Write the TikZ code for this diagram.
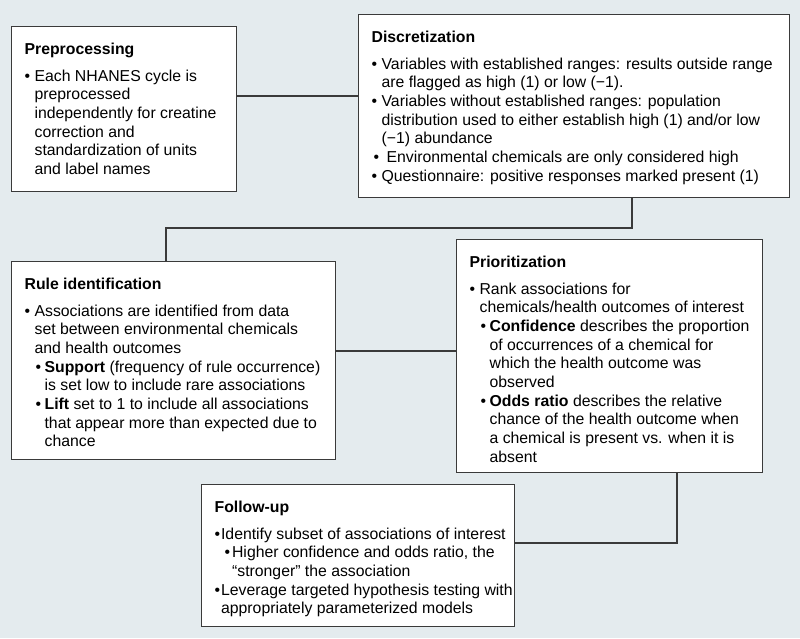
\documentclass[tikz,border=0pt]{standalone}
\usepackage{fontspec}
\setmainfont{Liberation Sans}

\definecolor{panel}{HTML}{E4EBEE}
\definecolor{edge}{HTML}{3A3A3A}

% bullet widths and indents
\newlength{\bw}\setlength{\bw}{10pt}
\newlength{\sbw}\setlength{\sbw}{9pt}
\newlength{\sind}\setlength{\sind}{11pt}
\newcommand{\itm}{\hspace*{0pt}\makebox[\bw][l]{\textbullet}}
\newcommand{\cnt}{\hspace*{\bw}}
\newcommand{\sitm}{\hspace*{\sind}\makebox[\sbw][l]{\textbullet}}
\newcommand{\scnt}{\hspace*{\dimexpr\sind+\sbw\relax}}
\newcommand{\boxbody}[4]{\parbox[c][#2][t]{#1}{\raggedright\vspace*{16.5pt}\leftskip=13pt\relax
  \textbf{#3}\par\vspace{7.8pt}#4\par}}

\tikzset{
  stage/.style={draw=edge, line width=1.2pt, fill=white, inner sep=0pt, anchor=north west,
    font=\fontsize{15.8}{18.7}\selectfont},
  link/.style={draw=edge, line width=1.2pt}
}

\begin{document}
\begin{tikzpicture}[x=1pt, y=-1pt]
    \fill[panel] (0,0) rectangle (800,638);

    \node[stage] (prep) at (11,26) {\boxbody{225pt}{165pt}{Preprocessing}{%
        \itm Each NHANES cycle is\\
        \cnt preprocessed\\
        \cnt independently for creatine\\
        \cnt correction and\\
        \cnt standardization of units\\
        \cnt and label names}};
    \node[stage] (disc) at (358,14) {\boxbody{431pt}{183pt}{Discretization}{%
        \setlength{\sind}{2pt}\setlength{\sbw}{13pt}%
        \itm Variables with established ranges: results outside range\\
        \cnt are flagged as high (1) or low (−1).\\
        \itm Variables without established ranges: population\\
        \cnt distribution used to either establish high (1) and/or low\\
        \cnt (−1) abundance\\
        \sitm Environmental chemicals are only considered high\\
        \itm Questionnaire: positive responses marked present (1)}};
    \node[stage] (rule) at (11,261) {\boxbody{324pt}{198pt}{Rule identification}{%
        \itm Associations are identified from data\\
        \cnt set between environmental chemicals\\
        \cnt and health outcomes\\
        \sitm \textbf{Support} (frequency of rule occurrence)\\
        \scnt is set low to include rare associations\\
        \sitm \textbf{Lift} set to 1 to include all associations\\
        \scnt that appear more than expected due to\\
        \scnt chance}};
    \node[stage] (prio) at (456,239) {\boxbody{306pt}{233pt}{Prioritization}{%
        \itm Rank associations for\\
        \cnt chemicals/health outcomes of interest\\
        \sitm \textbf{Confidence} describes the proportion\\
        \scnt of occurrences of a chemical for\\
        \scnt which the health outcome was\\
        \scnt observed\\
        \sitm \textbf{Odds ratio} describes the relative\\
        \scnt chance of the health outcome when\\
        \scnt a chemical is present vs. when it is\\
        \scnt absent}};
    \node[stage] (foll) at (201,484) {\boxbody{313pt}{142pt}{Follow-up}{%
        \setlength{\bw}{6.5pt}\setlength{\sind}{10pt}\setlength{\sbw}{7.5pt}%
        \itm Identify subset of associations of interest\\
        \sitm Higher confidence and odds ratio, the\\
        \scnt “stronger” the association\\
        \itm Leverage targeted hypothesis testing with\\
        \cnt appropriately parameterized models}};

    % connectors between the stages
    \coordinate (j1) at (300,96);
    \coordinate (j2) at (632,228);
    \coordinate (j3) at (166,228);
    \coordinate (j4) at (400,351);
    \coordinate (j5) at (677,543);
    \draw[link] (prep.east |- j1) -- (disc.west |- j1);
    \draw[link] (disc.south -| j2) -- (j2) -- (j3) -- (rule.north -| j3);
    \draw[link] (rule.east |- j4) -- (prio.west |- j4);
    \draw[link] (prio.south -| j5) |- (foll.east |- j5);
\end{tikzpicture}
\end{document}
